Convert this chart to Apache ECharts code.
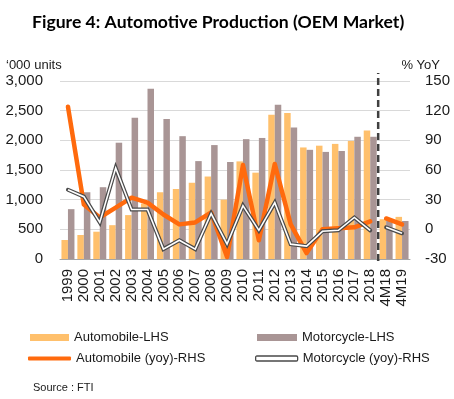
<!DOCTYPE html>
<html>
<head>
<meta charset="utf-8">
<script src="https://cdn.jsdelivr.net/npm/echarts@6/dist/echarts.min.js"></script>
<style>
  html, body { margin: 0; padding: 0; background: #fff; }
  #chart { width: 454px; height: 399px; }
</style>
</head>
<body>
<div id="chart"></div>
<script>
// categories
var years = ["1999", "2000", "2001", "2002", "2003", "2004", "2005", "2006", "2007", "2008", "2009",
  "2010", "2011", "2012", "2013", "2014", "2015", "2016", "2017", "2018", "4M18", "4M19"];

// production, '000 units (LHS)
var autoUnits = [320, 405, 460, 570, 740, 935, 1125, 1180, 1285, 1390, 1000,
  1645, 1455, 2430, 2460, 1880, 1910, 1940, 1990, 2165, 670, 710];
var motoUnits = [840, 1125, 1210, 1960, 2380, 2870, 2360, 2070, 1650, 1920, 1635,
  2020, 2040, 2600, 2215, 1840, 1805, 1820, 2060, 2060, 650, 640];

// growth, % yoy (RHS)
var autoYoy = [124, 25, 12, 22, 32, 27, 15, 5, 7, 17, -28,
  65, -11, 66, 5, -24, 0, 1, 2, 8, 11, 5];
var motoYoy = [40, 33, 7, 62, 20, 20, -20, -11, -20, 16, -15,
  24, -1, 27, -15, -17, -2, -1, 12, -1, 2, -4];

// number of full years before the year-to-date part, and where the dashed divider sits
var fullYears = 20;
var divider = [[20, -32], [20, 158]];

var font = "Liberation Sans";
var textColor = "#1a1a1a";

// split a series into the full-year part and the year-to-date part so the line breaks
function part(arr, ytd) {
  return arr.map(function (v, i) {
    return (i < fullYears) !== ytd ? v : null;
  });
}

var chart = echarts.init(document.getElementById("chart"));

var legendText = { fontFamily: font, fontSize: 13, color: textColor };

chart.setOption({
  animation: false,
  title: [
    {
      text: "Figure 4: Automotive Production (OEM Market)",
      left: 27, top: 8,
      textStyle: { fontFamily: "Lato", fontWeight: "bold", fontSize: 17.6, color: "#000" }
    },
    { text: "\u2018000 units", left: 1, top: 54, textStyle: { fontFamily: font, fontSize: 13, fontWeight: "normal", color: textColor } },
    { text: "% YoY", right: 9, top: 54, textStyle: { fontFamily: font, fontSize: 13, fontWeight: "normal", color: textColor } },
    { text: "Source : FTI", left: 28, top: 377, textStyle: { fontFamily: font, fontSize: 11, fontWeight: "normal", color: textColor } }
  ],
  legend: [
    {
      left: 25, top: 326, itemWidth: 39, itemHeight: 7, selectedMode: false, textStyle: legendText,
      data: [{ name: "Automobile-LHS", icon: "rect" }]
    },
    {
      left: 252, top: 326, itemWidth: 40, itemHeight: 7, selectedMode: false, textStyle: legendText,
      data: [{ name: "Motorcycle-LHS", icon: "rect" }]
    },
    {
      left: 23, top: 347, itemWidth: 43, itemHeight: 4, selectedMode: false, textStyle: legendText,
      data: [{ name: "Automobile (yoy)-RHS", icon: "roundRect" }]
    },
    {
      left: 250, top: 347, itemWidth: 42, itemHeight: 5, selectedMode: false, textStyle: legendText,
      data: [{
        name: "Motorcycle (yoy)-RHS", icon: "roundRect",
        itemStyle: { color: "#fff", borderColor: "#4a4a4a", borderWidth: 1.3 }
      }]
    }
  ],
  grid: { left: 60, right: 44, top: 81, bottom: 140 },
  xAxis: [
    {
      type: "category",
      data: years,
      axisLine: { lineStyle: { color: "#a6a6a6", width: 1 } },
      axisTick: { interval: 1, length: 5, lineStyle: { color: "#a6a6a6" } },
      axisLabel: { interval: 0, rotate: 90, margin: 10, fontFamily: font, fontSize: 15, color: textColor }
    },
    { type: "value", min: 0, max: years.length, show: false }
  ],
  yAxis: [
    {
      type: "value", min: 0, max: 3000, interval: 500,
      axisLine: { show: false }, axisTick: { show: false },
      splitLine: { lineStyle: { color: "#d9d9d9", width: 1 } },
      axisLabel: {
        margin: 17, fontFamily: font, fontSize: 15, color: textColor,
        formatter: function (v) { return v.toLocaleString("en-US"); }
      }
    },
    {
      type: "value", min: -30, max: 150, interval: 30,
      axisLine: { show: false }, axisTick: { show: false }, splitLine: { show: false },
      axisLabel: { margin: 15, fontFamily: font, fontSize: 15, color: textColor }
    }
  ],
  series: [
    {
      name: "Automobile-LHS", type: "bar", data: autoUnits,
      barWidth: 6.5, barGap: "0%",
      itemStyle: { color: "#FFC06C" }
    },
    {
      name: "Motorcycle-LHS", type: "bar", data: motoUnits,
      barWidth: 6.5,
      itemStyle: { color: "#A99595" }
    },
    {
      name: "divider", type: "line", xAxisIndex: 1, yAxisIndex: 1, data: divider,
      symbol: "none", clip: false, silent: true, z: 3,
      lineStyle: { color: "#404040", width: 2.5, type: [7, 4] }
    },
    {
      name: "Automobile (yoy)-RHS", type: "line", yAxisIndex: 1, data: part(autoYoy, false),
      symbol: "none", z: 4,
      itemStyle: { color: "#FF6A0D" },
      lineStyle: { color: "#FF6A0D", width: 4.5, join: "round", cap: "round" }
    },
    {
      name: "Automobile ytd", type: "line", yAxisIndex: 1, data: part(autoYoy, true),
      symbol: "none", z: 4,
      lineStyle: { color: "#FF6A0D", width: 4.5, cap: "round" }
    },
    {
      name: "Motorcycle (yoy)-RHS", type: "line", yAxisIndex: 1, data: part(motoYoy, false),
      symbol: "none", z: 5,
      itemStyle: { color: "#4a4a4a" },
      lineStyle: { color: "#4a4a4a", width: 4, join: "miter", cap: "round" }
    },
    {
      name: "Motorcycle inner", type: "line", yAxisIndex: 1, data: part(motoYoy, false),
      symbol: "none", z: 6,
      lineStyle: { color: "#ffffff", width: 1.6, join: "miter" }
    },
    {
      name: "Motorcycle ytd", type: "line", yAxisIndex: 1, data: part(motoYoy, true),
      symbol: "none", z: 5,
      lineStyle: { color: "#4a4a4a", width: 4, cap: "round" }
    },
    {
      name: "Motorcycle ytd inner", type: "line", yAxisIndex: 1, data: part(motoYoy, true),
      symbol: "none", z: 6,
      lineStyle: { color: "#ffffff", width: 1.6 }
    }
  ]
});
</script>
</body>
</html>
